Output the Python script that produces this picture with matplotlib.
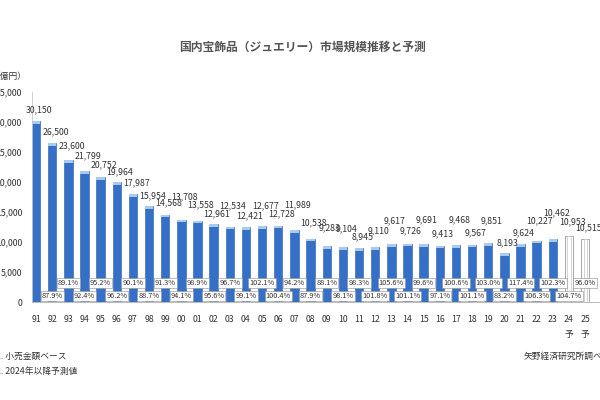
import numpy as np
import matplotlib
matplotlib.use("Agg")
import matplotlib.pyplot as plt

plt.rcParams['font.family'] = ['Noto Sans CJK JP', 'DejaVu Sans']

# データ (億円)
years = ['91', '92', '93', '94', '95', '96', '97', '98', '99', '00',
         '01', '02', '03', '04', '05', '06', '07', '08', '09', '10',
         '11', '12', '13', '14', '15', '16', '17', '18', '19', '20',
         '21', '22', '23', '24', '25']
market = [30150, 26500, 23600, 21799, 20752, 19964, 17987, 15954, 14568, 13708,
          13558, 12961, 12534, 12421, 12677, 12728, 11989, 10538, 9283, 9104,
          8945, 9110, 9617, 9726, 9691, 9413, 9468, 9567, 9851, 8193,
          9624, 10227, 10462, 10953, 10515]
# 前年比 (92年以降)
yoy = [87.9, 89.1, 92.4, 95.2, 96.2, 90.1, 88.7, 91.3, 94.1,
       98.9, 95.6, 96.7, 99.1, 102.1, 100.4, 94.2, 87.9, 88.1, 98.1,
       98.3, 101.8, 105.6, 101.1, 99.6, 97.1, 100.6, 101.1, 103.0, 83.2,
       117.4, 106.3, 102.3, 104.7, 96.0]
n_forecast = 2

# ラベルの上げ幅 (pt)
lbl_gap = [5, 5, 7, 8, 6, 4, 5, 4, 5, 13,
           8, 4, 12, 5, 11, 5, 15, 8, 10, 10,
           5, 9, 14, 6, 14, 5, 15, 5, 13, 4,
           5, 11, 16, 7, 5]

x = np.arange(len(years))
n_act = len(years) - n_forecast

fig = plt.figure(figsize=(6, 4), dpi=100)
ax = fig.add_axes([32/600, 98/400, 568/600, 210/400])

blue = '#3470c8'
ax.bar(x[:n_act], market[:n_act], width=0.52, color=blue, edgecolor='#2a5aa8', linewidth=0.4, zorder=2)
# 上面のハイライト
cap = 450
ax.bar(x[:n_act], [cap] * n_act, bottom=np.array(market[:n_act]) - cap, width=0.52,
       color='#a9cbf0', linewidth=0, zorder=3)
ax.bar(x[n_act:], market[n_act:], width=0.52, color='white', edgecolor='#9a9a9a', linewidth=0.6, zorder=2)
ax.bar(x[n_act:], market[n_act:], width=0.2, color='white', edgecolor='#c4c4c4', linewidth=0.5, zorder=2)

for i, v in enumerate(market):
    ax.annotate(f'{v:,}', (x[i] + 0.2, v), xytext=(0, lbl_gap[i]), textcoords='offset points',
                ha='center', va='bottom', fontsize=6.3, color='#333333', zorder=5)

for i, p in enumerate(yoy):
    xi = x[i + 1]
    yy = 3200 if (i + 1) % 2 == 0 else 1000
    ax.text(xi, yy, f'{p:.1f}%', ha='center', va='center', fontsize=5.3, color='#333333', zorder=6,
            bbox=dict(boxstyle='square,pad=0.15', fc='white', ec='#8a8a8a', lw=0.4))

ax.set_xlim(-0.25, 34.92)
ax.set_ylim(0, 35000)
ax.set_yticks(np.arange(0, 35001, 5000))
ax.set_yticklabels([f'{t:,}' for t in range(0, 35001, 5000)], fontsize=6.3, color='#333333')
ticklbls = [y if i < n_act else y + '\n予' for i, y in enumerate(years)]
ax.set_xticks(x)
ax.set_xticklabels(ticklbls, fontsize=6.3, color='#333333', linespacing=1.9)
ax.tick_params(axis='both', length=0)
ax.tick_params(axis='x', pad=9)
ax.tick_params(axis='y', pad=7)
for s in ['top', 'right']:
    ax.spines[s].set_visible(False)
ax.spines['left'].set_color('#c8c8c8')
ax.spines['left'].set_linewidth(0.6)
ax.spines['bottom'].set_color('#b0b0b0')
ax.spines['bottom'].set_linewidth(0.6)

ax.text(35.3, -1200, '(年)', fontsize=6.3, color='#333333', ha='left', va='top', clip_on=False)

fig.text(302/600, 1 - 47/400, '国内宝飾品（ジュエリー）市場規模推移と予測', ha='center', va='center',
         fontsize=8.5, fontweight='bold', color='#555555')
fig.text(27/600, 1 - 76/400, '（億円）', ha='right', va='center', fontsize=6.3, color='#333333')
fig.text(-4/600, 1 - 356/400, '1. 小売金額ベース', ha='left', va='center', fontsize=6.3, color='#333333')
fig.text(-4/600, 1 - 371/400, '2. 2024年以降予測値', ha='left', va='center', fontsize=6.3, color='#333333')
fig.text(524/600, 1 - 356/400, '矢野経済研究所調べ', ha='left', va='center', fontsize=6.3, color='#333333')

fig.savefig('out.png', dpi=100)
